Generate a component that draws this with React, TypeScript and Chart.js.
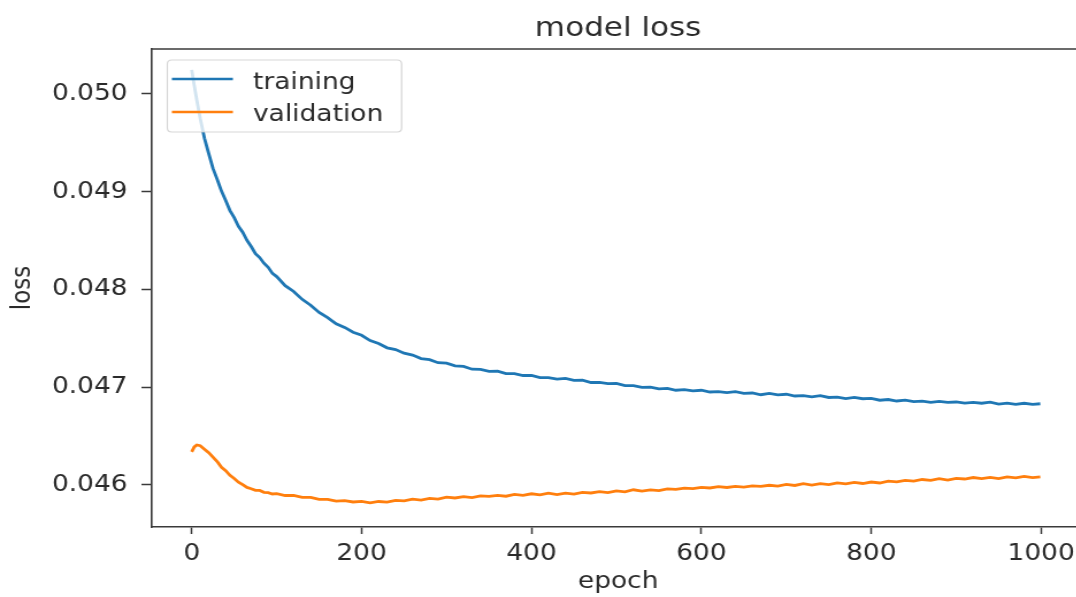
import React, { useEffect, useRef } from "react";
import { Chart, registerables } from "chart.js";

Chart.register(...registerables);

const epochs = [
  0, 3, 6, 10, 15, 20, 25, 30, 35, 40, 45, 50, 55, 60, 65, 70, 75, 80, 85, 90, 95, 100,
  110, 120, 130, 140, 150, 160, 170, 180, 190, 200, 210, 220, 230, 240, 250, 260, 270, 280, 290,
  300, 310, 320, 330, 340, 350, 360, 370, 380, 390, 400, 410, 420, 430, 440, 450, 460, 470, 480, 490,
  500, 510, 520, 530, 540, 550, 560, 570, 580, 590, 600, 610, 620, 630, 640, 650, 660, 670, 680, 690,
  700, 710, 720, 730, 740, 750, 760, 770, 780, 790, 800, 810, 820, 830, 840, 850, 860, 870, 880, 890,
  900, 910, 920, 930, 940, 950, 960, 970, 980, 990, 999,
];

const trainingLoss = [
  0.050246, 0.050085, 0.049935, 0.049749, 0.049547, 0.04939, 0.049238, 0.049126, 0.049006, 0.04891, 0.048807,
  0.048734, 0.048646, 0.048585, 0.048503, 0.048439, 0.048367, 0.048327, 0.048269, 0.048226, 0.048164, 0.048132,
  0.048039, 0.04798, 0.047899, 0.047839, 0.047765, 0.047711, 0.047649, 0.047612, 0.047562, 0.047531,
  0.047477, 0.047447, 0.047403, 0.047385, 0.047348, 0.047329, 0.047293, 0.047282, 0.047251,
  0.047246, 0.047219, 0.047213, 0.047184, 0.047182, 0.047163, 0.047165, 0.047139, 0.04714, 0.04712,
  0.047122, 0.047099, 0.047098, 0.047082, 0.04709, 0.04707, 0.047072, 0.047048, 0.047049, 0.047036,
  0.04704, 0.047016, 0.047017, 0.046998, 0.047001, 0.046983, 0.046988, 0.046969, 0.046975, 0.046962,
  0.046969, 0.046951, 0.046955, 0.046944, 0.046954, 0.046938, 0.046941, 0.046923, 0.046937, 0.046922,
  0.046928, 0.04691, 0.046913, 0.046902, 0.046914, 0.046895, 0.046899, 0.046883, 0.046895, 0.046882,
  0.046886, 0.046867, 0.046874, 0.046859, 0.046867, 0.046853, 0.046857, 0.046845, 0.046856, 0.046845,
  0.046849, 0.046837, 0.046845, 0.046836, 0.046847, 0.046828, 0.046838, 0.046824, 0.046836, 0.046825, 0.046831,
];

const validationLoss = [
  0.046338, 0.046389, 0.046409, 0.046401, 0.046365, 0.04633, 0.046284, 0.046239, 0.046181, 0.046146, 0.046098,
  0.046066, 0.046028, 0.046004, 0.045975, 0.045962, 0.045945, 0.045944, 0.045925, 0.045922, 0.045908, 0.045911,
  0.045892, 0.045893, 0.045873, 0.045874, 0.045852, 0.045853, 0.045834, 0.04584, 0.045826, 0.045832,
  0.045818, 0.045831, 0.045824, 0.045842, 0.045837, 0.045855, 0.045846, 0.045862, 0.045855,
  0.045876, 0.045867, 0.045881, 0.045871, 0.045889, 0.045883, 0.045894, 0.045885, 0.045903, 0.045894,
  0.04591, 0.045898, 0.045917, 0.045902, 0.045917, 0.045906, 0.045924, 0.045918, 0.045931, 0.045922,
  0.045939, 0.04593, 0.045951, 0.045938, 0.045949, 0.045942, 0.04596, 0.045954, 0.045968, 0.045963,
  0.045976, 0.045969, 0.045982, 0.045974, 0.045985, 0.045978, 0.045991, 0.045986, 0.045997, 0.045989,
  0.046005, 0.045995, 0.046013, 0.045999, 0.046014, 0.046003, 0.046021, 0.046011, 0.046027, 0.046015,
  0.04603, 0.04602, 0.046039, 0.046031, 0.046047, 0.046039, 0.046056, 0.046047, 0.046065, 0.04605,
  0.046068, 0.046061, 0.046076, 0.046066, 0.046077, 0.046065, 0.046083, 0.046073, 0.046087, 0.046076, 0.046083,
];

const xTicks = [0, 200, 400, 600, 800, 1000];
const yTicks = [0.046, 0.047, 0.048, 0.049, 0.05];
const seriesLabels = ["training", "validation"];
const seriesColors = ["#1f77b4", "#ff7f0e"];
const chartTitle = "model loss";
const xTitle = "epoch";
const yTitle = "loss";

const FONT = "'DejaVu Sans', 'Liberation Sans', sans-serif";
const TEXT = "#2a2a2a";
const SPINE = "#3a3a3a";
const STRETCH = 1.15;
const W = 943;
const H = 597;

const framePlugin = {
  id: "framePlugin",
  afterDatasetsDraw(chart: any) {
    const { ctx, chartArea } = chart;
    ctx.save();
    // top spine (right spine lies outside the visible picture)
    ctx.strokeStyle = SPINE;
    ctx.lineWidth = 1.6;
    ctx.beginPath();
    ctx.moveTo(chartArea.left, chartArea.top);
    ctx.lineTo(chart.width, chartArea.top);
    ctx.stroke();

    // legend (matplotlib style, inside the axes at upper left)
    ctx.font = `23px ${FONT}`;
    const textX = chartArea.left + 88;
    let maxW = 0;
    seriesLabels.forEach((l) => {
      maxW = Math.max(maxW, ctx.measureText(l).width);
    });
    const fx = chartArea.left + 13.5;
    const fy = 60;
    const fw = textX + maxW + 16 - fx;
    const fh = 72;
    const r = 4;
    ctx.beginPath();
    ctx.moveTo(fx + r, fy);
    ctx.lineTo(fx + fw - r, fy);
    ctx.quadraticCurveTo(fx + fw, fy, fx + fw, fy + r);
    ctx.lineTo(fx + fw, fy + fh - r);
    ctx.quadraticCurveTo(fx + fw, fy + fh, fx + fw - r, fy + fh);
    ctx.lineTo(fx + r, fy + fh);
    ctx.quadraticCurveTo(fx, fy + fh, fx, fy + fh - r);
    ctx.lineTo(fx, fy + r);
    ctx.quadraticCurveTo(fx, fy, fx + r, fy);
    ctx.closePath();
    ctx.fillStyle = "rgba(255,255,255,0.8)";
    ctx.fill();
    ctx.strokeStyle = "rgba(204,204,204,0.8)";
    ctx.lineWidth = 1.2;
    ctx.stroke();

    const rows = [79, 112];
    const baselines = [88.5, 121];
    chart.data.datasets.forEach((ds: any, i: number) => {
      ctx.strokeStyle = ds.borderColor;
      ctx.lineWidth = 2.5;
      ctx.beginPath();
      ctx.moveTo(chartArea.left + 17.5, rows[i]);
      ctx.lineTo(chartArea.left + 70.5, rows[i]);
      ctx.stroke();
      ctx.fillStyle = TEXT;
      ctx.textAlign = "left";
      ctx.textBaseline = "alphabetic";
      ctx.fillText(ds.label, textX, baselines[i]);
    });
    ctx.restore();
  },
};

export default function App() {
  const canvasRef = useRef<HTMLCanvasElement | null>(null);

  useEffect(() => {
    const canvas = canvasRef.current;
    if (!canvas) return;
    const datasets = [trainingLoss, validationLoss].map((vals, i) => ({
      label: seriesLabels[i],
      data: epochs.map((e, j) => ({ x: e, y: vals[j] })),
      borderColor: seriesColors[i],
      backgroundColor: seriesColors[i],
      borderWidth: 2.8,
      pointRadius: 0,
      tension: 0,
      fill: false,
    }));
    const chart = new Chart(canvas, {
      type: "line",
      data: { datasets },
      plugins: [framePlugin],
      options: {
        animation: false,
        responsive: false,
        devicePixelRatio: 1,
        layout: { padding: 0 },
        plugins: {
          legend: { display: false },
          tooltip: { enabled: false },
          title: {
            display: true,
            text: chartTitle,
            fullSize: false,
            color: TEXT,
            font: { family: FONT, size: 27, weight: "normal" },
            padding: { top: 13, bottom: 3.6 },
          },
        },
        scales: {
          x: {
            type: "linear",
            min: -47,
            max: 1051,
            afterBuildTicks: (s: any) => {
              s.ticks = xTicks.map((v) => ({ value: v }));
            },
            afterFit: (s: any) => {
              s.height = 70;
            },
            grid: {
              drawOnChartArea: false,
              drawTicks: true,
              tickLength: 7,
              tickWidth: 1.5,
              tickColor: SPINE,
            },
            border: { display: true, color: SPINE, width: 1.6 },
            ticks: {
              color: TEXT,
              font: { family: FONT, size: 23 },
              padding: 6,
              maxRotation: 0,
              autoSkip: false,
              callback: (v: any) => String(v),
            },
            title: {
              display: true,
              text: xTitle,
              color: TEXT,
              font: { family: FONT, size: 23 },
              padding: { top: 0, bottom: 1 },
            },
          },
          y: {
            type: "linear",
            min: 0.04557,
            max: 0.05046,
            afterBuildTicks: (s: any) => {
              s.ticks = yTicks.map((v) => ({ value: v }));
            },
            afterFit: (s: any) => {
              s.width = 132;
            },
            grid: {
              drawOnChartArea: false,
              drawTicks: true,
              tickLength: 9,
              tickWidth: 1.5,
              tickColor: SPINE,
            },
            border: { display: true, color: SPINE, width: 1.6 },
            ticks: {
              color: TEXT,
              font: { family: FONT, size: 23 },
              padding: 12,
              autoSkip: false,
              callback: (v: any) => Number(v).toFixed(3),
            },
            title: {
              display: true,
              text: yTitle,
              color: TEXT,
              font: { family: FONT, size: 23 },
              padding: { top: 6, bottom: 0 },
            },
          },
        },
      },
    } as any);
    return () => chart.destroy();
  }, []);

  return (
    <div
      style={{
        position: "fixed",
        left: 0,
        top: 0,
        width: 1076,
        height: 597,
        overflow: "hidden",
        background: "#fff",
      }}
    >
      <div
        style={{
          width: W,
          height: H,
          transform: `scaleX(${STRETCH})`,
          transformOrigin: "0 0",
        }}
      >
        <canvas ref={canvasRef} width={W} height={H} style={{ width: W, height: H, display: "block" }} />
      </div>
    </div>
  );
}
